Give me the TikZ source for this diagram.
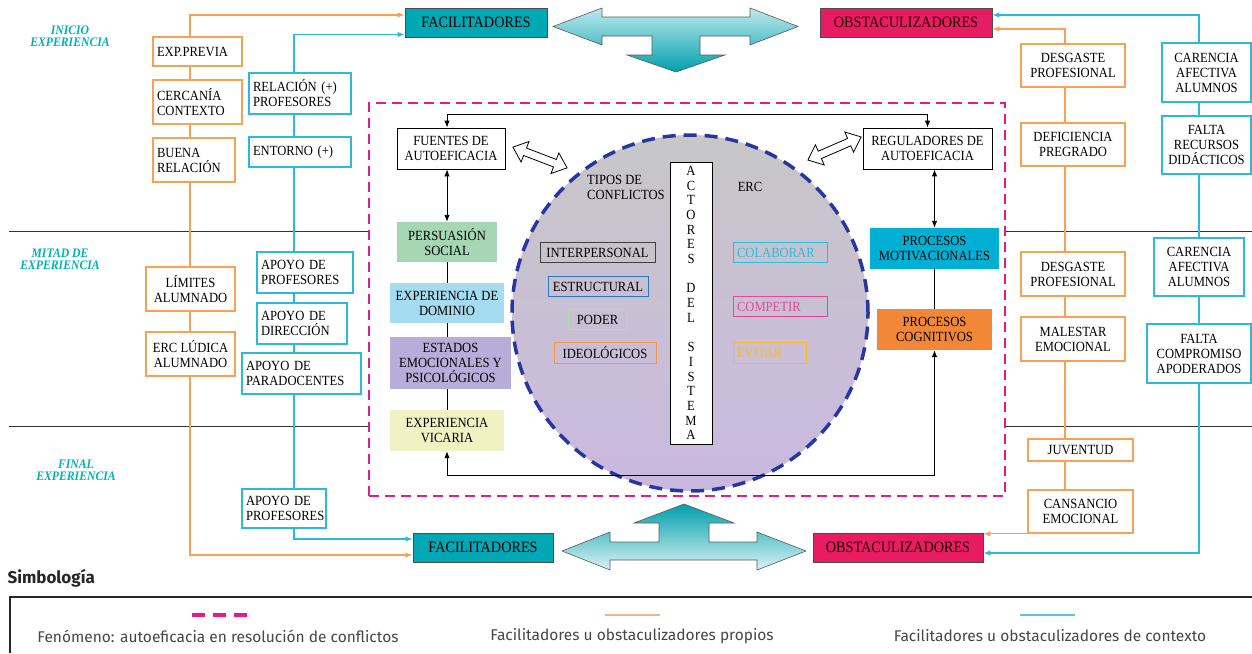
\documentclass[tikz,border=0pt]{standalone}
\usepackage{fontspec}
\setmainfont{Liberation Serif}[FakeStretch=0.9]
\newfontfamily\legfont{Fira Sans}
\usetikzlibrary{arrows.meta}
\definecolor{ocol}{RGB}{247,162,82}
\definecolor{bcol}{RGB}{45,185,222}
\definecolor{facol}{RGB}{0,168,181}
\definecolor{obcol}{RGB}{232,28,98}
\definecolor{mgcol}{RGB}{228,25,140}
\definecolor{cbcol}{RGB}{40,55,160}
\definecolor{phcol}{RGB}{0,178,178}
\definecolor{psfill}{RGB}{165,215,180}
\definecolor{edfill}{RGB}{165,220,240}
\definecolor{eefill}{RGB}{182,174,216}
\definecolor{evfill}{RGB}{240,242,195}
\definecolor{pmfill}{RGB}{0,176,212}
\definecolor{pcfill}{RGB}{242,135,55}
\definecolor{escol}{RGB}{40,120,200}
\definecolor{pocol}{RGB}{170,225,160}
\definecolor{idcol}{RGB}{240,150,70}
\definecolor{cocol}{RGB}{40,190,225}
\definecolor{cpcol}{RGB}{232,70,150}
\definecolor{evcol}{RGB}{245,190,40}
\definecolor{lgor}{RGB}{245,175,145}
\definecolor{lgbl}{RGB}{100,190,225}
\definecolor{lgtxt}{RGB}{70,70,70}
\tikzset{>={Latex[length=7pt,width=5.5pt]}}
\tikzset{every node/.style={font=\fontsize{14}{15}\selectfont}}
\tikzset{obox/.style={draw=ocol, line width=1.6pt, fill=white, inner xsep=4pt, inner ysep=2pt, align=center}}
\tikzset{bbox/.style={draw=bcol, line width=1.6pt, fill=white, inner xsep=4pt, inner ysep=2pt, align=center}}
\tikzset{wh/.style 2 args={minimum width=#1, minimum height=#2}}
\tikzset{lt/.style 2 args={text width=#1, minimum height=#2, align=left}}
\tikzset{hdr/.style={draw=black!70, line width=0.8pt, font=\fontsize{15.8}{17}\selectfont, inner sep=0pt}}
\tikzset{kbox/.style={draw, line width=0.8pt, fill=white, align=center, inner sep=2pt}}
\tikzset{cbox/.style={align=center, inner sep=2pt}}
\tikzset{sbox/.style={draw=#1, line width=1pt, inner xsep=4pt, inner ysep=1pt, minimum height=20.5}}
\tikzset{phase/.style={text=phcol, font=\bfseries\itshape\fontsize{13}{12}\selectfont, align=center, inner sep=1pt}}
\tikzset{oline/.style={draw=ocol, line width=1.3pt}}
\tikzset{bline/.style={draw=bcol, line width=1.3pt}}
\tikzset{kline/.style={draw, line width=0.9pt}}
\tikzset{hollow/.style={draw, fill=white, line width=0.8pt}}
\tikzset{tarrow/.style={draw=black!65, line width=0.6pt}}
\tikzset{divline/.style={draw=black!80, line width=1pt}}
\tikzset{legtext/.style={text=lgtxt, font=\legfont\fontsize{15.5}{17}\selectfont}}
\begin{document}
\begin{tikzpicture}[x=1pt,y=-1pt]
\useasboundingbox (0,0) rectangle (1252,653);
% phases
\node[phase](ini) at (70,36) {INICIO\\EXPERIENCIA};
\node[phase](mit) at (60,259) {MITAD DE\\EXPERIENCIA};
\node[phase](fin) at (76,470) {FINAL\\EXPERIENCIA};
% fenomeno
\node[draw=mgcol, line width=2.5pt, dash pattern=on 10pt off 6pt, wh={636}{393}](fen) at (687,299.5) {};
\draw[divline] (9,231) -- (fen.west |- 0,231);
\draw[divline] (fen.east |- 0,231) -- (1252,231);
\draw[divline] (9,426) -- (fen.west |- 0,426);
\draw[divline] (fen.east |- 0,426) -- (1252,426);
% facilitadores / obstaculizadores
\node[hdr, fill=facol, wh={142}{29}](f1) at (476,22.5) {FACILITADORES};
\node[hdr, fill=obcol, text=black!85!red, wh={172}{29}](o1) at (906,22.5) {OBSTACULIZADORES};
\node[hdr, fill=facol, wh={140}{29}](f2) at (483,547.5) {FACILITADORES};
\node[hdr, fill=obcol, text=black!85!red, wh={170}{29}](o2) at (898,547.5) {OBSTACULIZADORES};
\draw[tarrow, top color=facol!25, bottom color=facol!95!black] (553,26.5) -- (602,8) -- (602,17) -- (750,17) -- (750,8) -- (798,26.5) -- (750,45) -- (750,36) -- (700,36) -- (700,55) -- (725,55) -- (676,72) -- (627,55) -- (652,55) -- (652,36) -- (602,36) -- (602,45) -- cycle;
\draw[tarrow, top color=facol!95!black, bottom color=facol!15] (562,551) -- (610,532) -- (610,542) -- (659,542) -- (659,523) -- (634,523) -- (684,504) -- (734,523) -- (709,523) -- (709,542) -- (757,542) -- (757,532) -- (806,551) -- (757,570) -- (757,560) -- (610,560) -- (610,570) -- cycle;
% left column, propios
\node[obox, lt={81}{29}](ep) at (197.5,51.5) {EXP.PREVIA};
\node[obox, lt={81}{44}](cc) at (197.5,102) {CERCAN\'IA\\CONTEXTO};
\node[obox, lt={74}{44}](br) at (194,160) {BUENA\\RELACI\'ON};
\node[obox, wh={89}{44}](lim) at (190.5,289) {L\'IMITES\\ALUMNADO};
\node[obox, wh={89}{44}](erc) at (190.5,354) {ERC L\'UDICA\\ALUMNADO};
% left column, contexto
\node[bbox, lt={94}{41}](rel) at (300,93.5) {RELACI\'ON (+)\\PROFESORES};
\node[bbox, lt={94}{30}](ent) at (300,152) {ENTORNO (+)};
\node[bbox, lt={88}{41}](ap1) at (305,272.5) {APOYO DE\\PROFESORES};
\node[bbox, lt={82}{41}](ap2) at (302,323.5) {APOYO DE\\DIRECCI\'ON};
\node[bbox, lt={111}{41}](ap3) at (301.5,373.5) {APOYO DE\\PARADOCENTES};
\node[bbox, lt={76}{39}](ap4) at (284,508.5) {APOYO DE\\PROFESORES};
% right column, propios
\node[obox, wh={104}{43}](d1) at (1073,65.5) {DESGASTE\\PROFESIONAL};
\node[obox, wh={104}{43}](dp) at (1073,144.5) {DEFICIENCIA\\PREGRADO};
\node[obox, wh={104}{44}](d2) at (1073,274) {DESGASTE\\PROFESIONAL};
\node[obox, wh={104}{44}](me) at (1073,339) {MALESTAR\\EMOCIONAL};
\node[obox, wh={105}{22}](ju) at (1080.5,450) {JUVENTUD};
\node[obox, wh={105}{43}](ce) at (1080.5,511.5) {CANSANCIO\\EMOCIONAL};
% right column, contexto
\node[bbox, wh={89}{59}](ca1) at (1206.5,72.5) {CARENCIA\\AFECTIVA\\ALUMNOS};
\node[bbox, wh={89}{58}](fr) at (1206.5,145) {FALTA\\RECURSOS\\DID\'ACTICOS};
\node[bbox, wh={90}{58}](ca2) at (1199,267) {CARENCIA\\AFECTIVA\\ALUMNOS};
\node[bbox, wh={104}{59}](fc) at (1199,353.5) {FALTA\\COMPROMISO\\APODERADOS};
% connectors, left
\coordinate (oL) at (190,0);
\coordinate (bL) at (294,0);
\draw[oline,->] (oL |- ep.north) |- ([yshift=7.5pt]f1.west);
\draw[oline] (oL |- ep.south) -- (oL |- cc.north);
\draw[oline] (oL |- cc.south) -- (oL |- br.north);
\draw[oline] (oL |- br.south) -- (oL |- lim.north);
\draw[oline] (oL |- lim.south) -- (oL |- erc.north);
\draw[oline,->] (oL |- erc.south) |- ([yshift=-7.5pt]f2.west);
\draw[bline,->] (bL |- rel.north) |- ([yshift=-12pt]f1.west);
\draw[bline] (bL |- rel.south) -- (bL |- ent.north);
\draw[bline] (bL |- ent.south) -- (bL |- ap1.north);
\draw[bline] (bL |- ap1.south) -- (bL |- ap2.north);
\draw[bline] (bL |- ap2.south) -- (bL |- ap3.north);
\draw[bline] (bL |- ap3.south) -- (bL |- ap4.north);
\draw[bline,->] (bL |- ap4.south) |- ([yshift=8.5pt]f2.west);
% connectors, right
\coordinate (oR) at (1065,0);
\coordinate (bR) at (1199,0);
\draw[oline,->] (oR |- d1.north) |- ([yshift=-6.5pt]o1.east);
\draw[oline] (oR |- d1.south) -- (oR |- dp.north);
\draw[oline] (oR |- dp.south) -- (oR |- d2.north);
\draw[oline] (oR |- d2.south) -- (oR |- me.north);
\draw[oline] (oR |- me.south) -- (oR |- ju.north);
\draw[oline] (oR |- ju.south) -- (oR |- ce.north);
\draw[oline,->] (ce.south west) -- (ce.south west -| o2.east);
\draw[bline,->] (bR |- ca1.north) |- ([yshift=7.5pt]o1.east);
\draw[bline] (bR |- ca1.south) -- (bR |- fr.north);
\draw[bline] (bR |- fr.south) -- (bR |- ca2.north);
\draw[bline] (bR |- ca2.south) -- (bR |- fc.north);
\draw[bline,->] (bR |- fc.south) |- ([yshift=-5.5pt]o2.east);
% circle of conflicts
\node[circle, draw=cbcol, line width=3.5pt, dash pattern=on 13pt off 8pt, top color=black!22, bottom color={rgb,255:red,202;green,184;blue,224}, minimum size=356pt](cir) at (690,313) {};
\node[cbox, anchor=west, align=left](tc) at (585,187.5) {TIPOS DE\\CONFLICTOS};
\node[cbox](ercl) at (750,187) {ERC};
\node[kbox, minimum width=42, minimum height=282, font=\fontsize{14}{14.7}\selectfont](act) at (691,303) {A\\C\\T\\O\\R\\E\\S\\[14.7pt]D\\E\\L\\[14.7pt]S\\I\\S\\T\\E\\M\\A};
\node[sbox=black!75, minimum width=115](ip) at (597.5,252.5) {INTERPERSONAL};
\node[sbox=escol, minimum width=100](es) at (598,286.5) {ESTRUCTURAL};
\node[sbox=pocol, minimum width=59](po) at (597.5,319.5) {PODER};
\node[sbox=idcol, minimum width=102](id) at (605,353) {IDEOL\'OGICOS};
\node[sbox=cocol, text=cocol, text width=86, align=left](co) at (780,252.5) {COLABORAR};
\node[sbox=cpcol, text=cpcol, text width=86, align=left](cp) at (780,306.5) {COMPETIR};
\node[sbox=evcol, text=evcol, text width=65, align=left](ev2) at (769.5,353) {EVITAR};
% sources and regulators
\node[kbox, wh={108}{41}](fu) at (451,148.5) {FUENTES DE\\AUTOEFICACIA};
\node[kbox, wh={129}{41}](re) at (927.5,148.5) {REGULADORES DE\\AUTOEFICACIA};
\node[cbox, fill=psfill, wh={100}{40}](ps) at (447,242) {PERSUASI\'ON\\SOCIAL};
\node[cbox, fill=edfill, wh={114}{40}](ed) at (447,303) {EXPERIENCIA DE\\DOMINIO};
\node[cbox, fill=eefill, wh={121}{52}](ee) at (450.5,363) {ESTADOS\\EMOCIONALES Y\\PSICOL\'OGICOS};
\node[cbox, fill=evfill, wh={114}{41}](ev) at (447,430.5) {EXPERIENCIA\\VICARIA};
\node[cbox, fill=pmfill, wh={129}{41}](pm) at (934.5,248.5) {PROCESOS\\MOTIVACIONALES};
\node[cbox, fill=pcfill, wh={115}{41}](pc) at (934.5,329.5) {PROCESOS\\COGNITIVOS};
\begin{scope}[shift={(540,157.5)}, rotate=-21]
  \draw[hollow] (-29,0) -- (-16,-11) -- (-16,-4) -- (16,-4) -- (16,-11) -- (29,0) -- (16,11) -- (16,4) -- (-16,4) -- (-16,11) -- cycle;
\end{scope}
\begin{scope}[shift={(834.5,148.5)}, rotate=23.5]
  \draw[hollow] (-29,0) -- (-16,-11) -- (-16,-4) -- (16,-4) -- (16,-11) -- (29,0) -- (16,11) -- (16,4) -- (-16,4) -- (-16,11) -- cycle;
\end{scope}
\draw[kline,<->] ([xshift=-4pt]fu.north) -- ++(0,-13) -| (re.north);
\draw[kline,<->] (fu.south -| ps.north) -- (ps.north);
\draw[kline] (ps.south) -- (ps.south |- ed.north);
\draw[kline] (ed.south) -- (ed.south |- ee.north);
\draw[kline] (ed.south |- ee.south) -- (ed.south |- ev.north);
\draw[kline,<->] (ev.south) -- ++(0,24) -| (pc.south);
\draw[kline,<->] (re.south -| pm.north) -- (pm.north);
\draw[kline] (pm.south) -- (pc.north);
% legend
\node[anchor=west, text=black!85, font=\legfont\bfseries\fontsize{17}{19}\selectfont](sim) at (4,578) {Simbolog\'ia};
\draw[draw=black!85, line width=2.5pt] (1252,597) -- (10,597) -- (10,653);
\node[legtext](l1) at (218,636) {Fen\'omeno: autoeficacia en resoluci\'on de conflictos};
\node[legtext](l2) at (632,636) {Facilitadores u obstaculizadores propios};
\node[legtext](l3) at (1050,636) {Facilitadores u obstaculizadores de contexto};
\draw[draw=mgcol, line width=4pt, dash pattern=on 13pt off 8pt] (192,615) -- (247,615);
\draw[draw=lgor, line width=2pt] (605,615) -- (660,615);
\draw[draw=lgbl, line width=2pt] (1020,615) -- (1075,615);
\end{tikzpicture}
\end{document}
